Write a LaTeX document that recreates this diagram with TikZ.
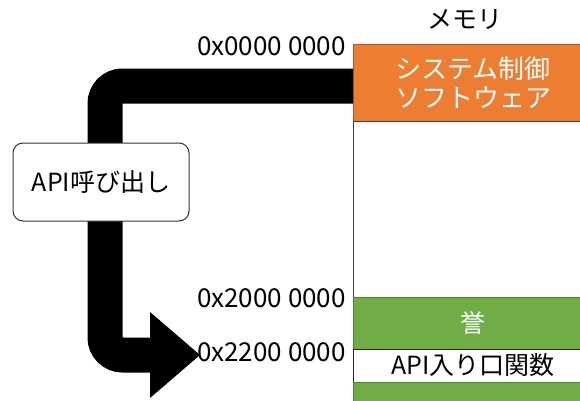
\documentclass[tikz,border=0pt]{standalone}
\usepackage{fontspec}
\setmainfont{Noto Sans CJK JP}
\usetikzlibrary{calc}
\definecolor{memorange}{HTML}{ED7D31}
\definecolor{memorangeb}{HTML}{AE5A21}
\definecolor{memgreen}{HTML}{70AD47}
\definecolor{memgreenb}{HTML}{507E32}
\begin{document}
\begin{tikzpicture}[x=1pt,y=-1pt,
  txt/.style={font=\fontsize{25}{30}\selectfont},
  memblock/.style={anchor=north west, minimum width=240pt, inner sep=0pt, outer sep=0pt, line width=1pt, txt, align=center, text width=228pt},
  addr/.style={font=\fontsize{26}{30}\selectfont, anchor=east, inner sep=0pt},
  callbox/.style={draw=black!80, fill=white, rounded corners=10pt, line width=1pt, minimum width=176pt, minimum height=78pt, inner sep=0pt, txt},
  bigarrow/.style={line width=35pt, line cap=butt, rounded corners=17.5pt}
]
\clip (0,0) rectangle (580,400);
\fill[white] (0,0) rectangle (580,400);
% memory blocks
\node[memblock, fill=memorange, draw=memorangeb, minimum height=77pt, text=white, font=\fontsize{26}{29}\selectfont] (sys) at (353,44) {システム制御\\ソフトウェア};
\node[memblock, fill=white, draw=black!75, minimum height=176pt] (free) at (353,121) {};
\node[memblock, fill=memgreen, draw=memgreenb, minimum height=52pt, text=white] (hon) at (353,297) {誉};
\node[memblock, fill=white, draw=black!85, minimum height=33pt] (entry) at (353,349) {API入り口関数};
\node[memblock, fill=memgreen, draw=memgreenb, minimum height=30pt] (rest) at (353,382) {};
% labels
\node[txt] (memlabel) at (465,20) {メモリ};
\node[addr] (a0) at (346,46) {0x0000 0000};
\node[addr] (a1) at (346,298) {0x2000 0000};
\node[addr] (a2) at (346,352) {0x2200 0000};
% arrow
\coordinate (start) at (353,86);
\coordinate (bend1) at (105,86);
\coordinate (bend2) at (105,355);
\coordinate (headbase) at (150,355);
\coordinate (tip) at (200,355);
\draw[bigarrow] (start) -- (bend1) -- (bend2) -- (headbase);
\fill ($(headbase)+(0,-43)$) -- (tip) -- ($(headbase)+(0,43)$) -- cycle;
% call box
\node[callbox] (call) at (101,182) {API呼び出し};
\end{tikzpicture}
\end{document}
